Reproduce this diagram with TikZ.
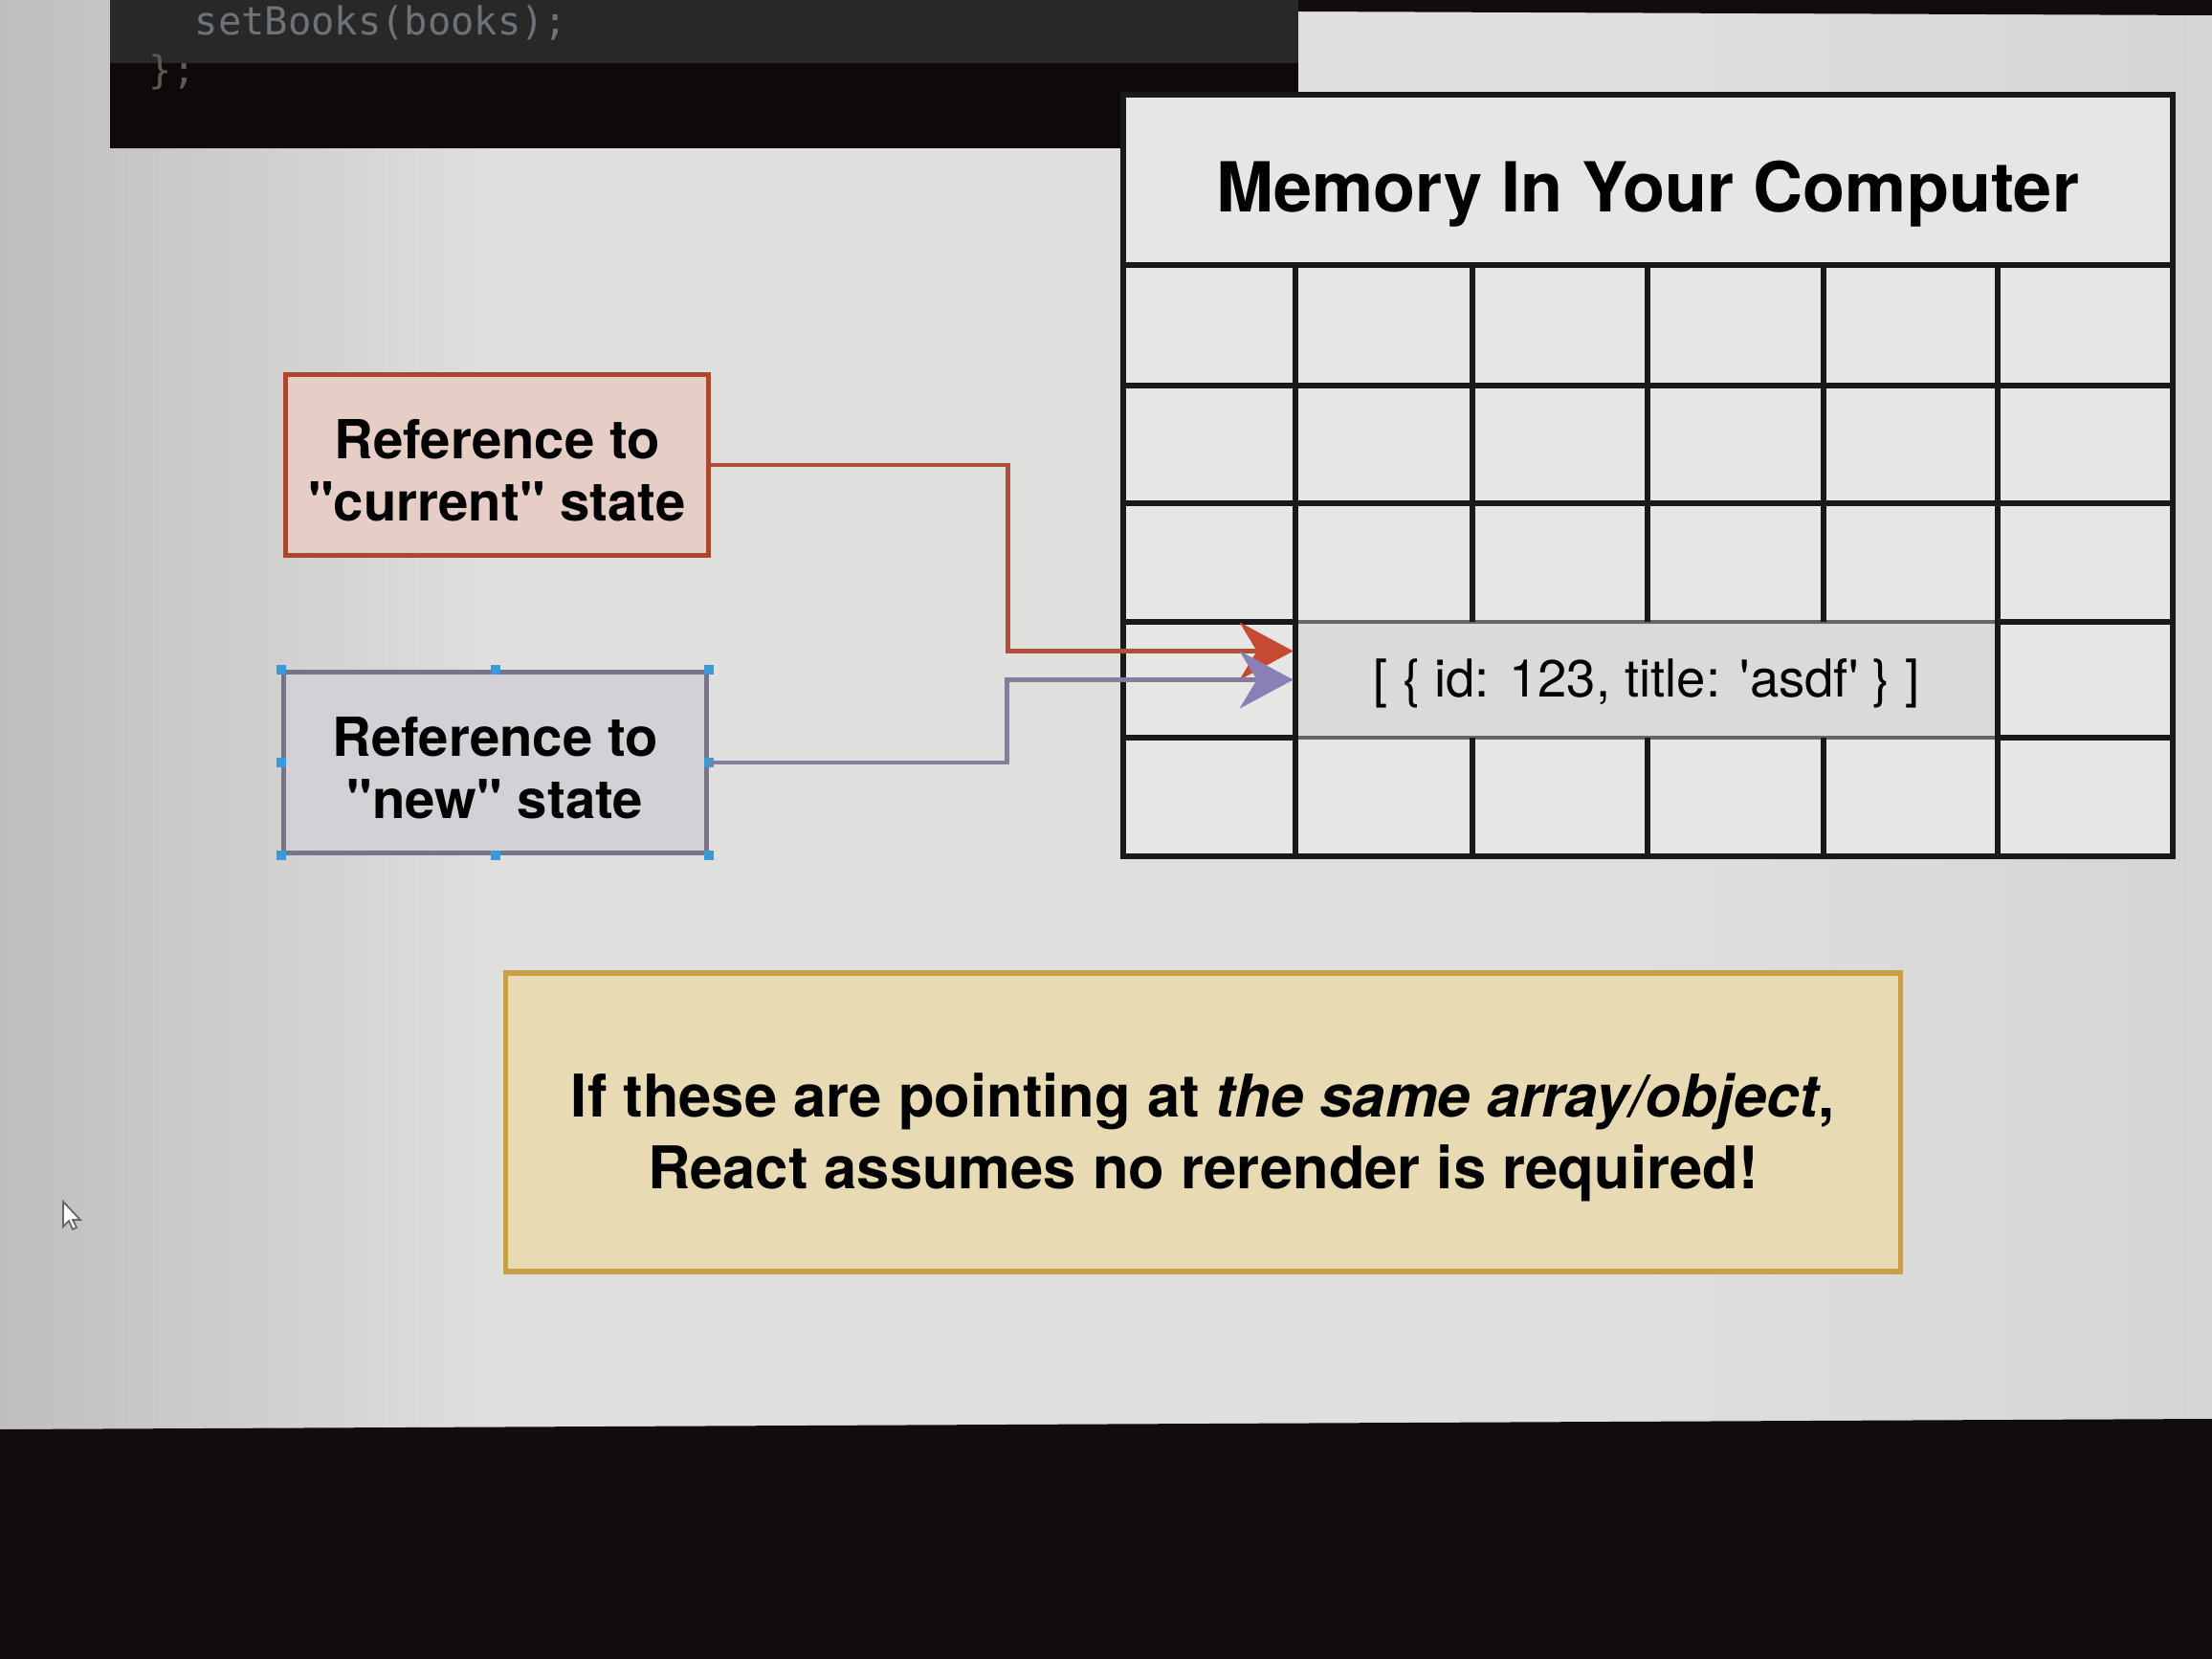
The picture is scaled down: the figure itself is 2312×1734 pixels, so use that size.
\documentclass[tikz,border=0pt]{standalone}
\usepackage{fontspec}
\setmainfont{TeX Gyre Heros}
\setmonofont{DejaVu Sans Mono}
\usetikzlibrary{arrows.meta,calc}
\definecolor{screenl}{HTML}{BEBEBC}
\definecolor{screenm}{HTML}{DFDFDD}
\definecolor{screenr}{HTML}{D5D5D3}
\definecolor{bezel}{HTML}{110C0D}
\definecolor{codebg}{HTML}{0E0A0B}
\definecolor{codeband}{HTML}{282828}
\definecolor{codetxt}{HTML}{6C7479}
\definecolor{bracetxt}{HTML}{5E5A4E}
\definecolor{curfill}{HTML}{E6CEC7}
\definecolor{curdraw}{HTML}{A9482F}
\definecolor{newfill}{HTML}{D3D0D6}
\definecolor{newdraw}{HTML}{7A7388}
\definecolor{redtip}{HTML}{C54A31}
\definecolor{purptip}{HTML}{8A80B5}
\definecolor{curwire}{HTML}{B0503B}
\definecolor{newwire}{HTML}{857C9C}
\definecolor{memfill}{HTML}{E6E6E4}
\definecolor{cellfill}{HTML}{DADAD8}
\definecolor{notefill}{HTML}{E8DBB4}
\definecolor{notedraw}{HTML}{C9A04A}
\definecolor{handle}{HTML}{3A9AD6}

\begin{document}
\begin{tikzpicture}[x=0.01cm,y=-0.01cm,
    refbox/.style={draw,line width=1.6pt,minimum width=4.42cm,minimum height=1.89cm,
      align=center,inner sep=0pt,font=\fontsize{16}{18.5}\selectfont\bfseries},
    gridline/.style={line width=1.8pt,black!90},
    curwire/.style={draw=curwire,line width=1.3pt,-{Stealth[length=5.6mm,width=6mm,inset=1.8mm,color=redtip]}},
    newwire/.style={draw=newwire,line width=1.3pt,-{Stealth[length=5.6mm,width=6mm,inset=1.8mm,color=purptip]}},
    notebox/.style={draw=notedraw,fill=notefill,line width=1.6pt,minimum width=14.57cm,minimum height=3.12cm,
      align=center,font=\fontsize{17.5}{21.5}\selectfont\bfseries}]
  \useasboundingbox (0,0) rectangle (2312,1734);
  \fill[screenm] (0,0) rectangle (2312,1494);
  \shade[left color=screenl,right color=screenm] (0,0) rectangle (520,1494);
  \shade[left color=screenm,right color=screenr] (1700,0) rectangle (2312,1494);
  \fill[bezel] (0,1494) -- (2312,1483) -- (2312,1734) -- (0,1734) -- cycle;
  \fill[bezel] (1357,0) -- (2312,0) -- (2312,16) -- (1357,12) -- cycle;
  \fill[codebg] (115,0) rectangle (1357,155);
  \fill[codeband] (115,0) rectangle (1357,66);
  \node[anchor=base west,inner sep=0pt,font=\ttfamily\fontsize{11.5}{14}\selectfont,text=codetxt] (code1) at (203,37) {setBooks(books);};
  \node[anchor=base west,inner sep=0pt,font=\ttfamily\fontsize{11.5}{14}\selectfont,text=bracetxt] (code2) at (155,88) {\};};

  \fill[memfill] (1174,99) rectangle (2271,895);
  \node[anchor=center,font=\fontsize{20.5}{24}\selectfont\bfseries] (memtitle) at (1722,203) {Memory In Your Computer};
  \node[fill=cellfill,draw=black!60,line width=1.2pt,minimum width=7.34cm,minimum height=1.21cm,
    font=\fontsize{15.5}{18}\selectfont] (arr) at (1721,710.5) {\rule{0pt}{13.5pt}[ \{ id: 123, title: \textquotesingle asdf\textquotesingle\ \} ]};
  \foreach \x in {1354,2088} \draw[gridline] (\x,277) -- (\x,895);
  \foreach \x in {1539,1722,1906} {
    \draw[gridline] (\x,277) -- (\x,650);
    \draw[gridline] (\x,771) -- (\x,895);
  }
  \foreach \y in {403,526} \draw[gridline] (1174,\y) -- (2271,\y);
  \foreach \y in {650,771} {
    \draw[gridline] (1174,\y) -- (1354,\y);
    \draw[gridline] (2088,\y) -- (2271,\y);
  }
  \draw[gridline] (1174,277) -- (2271,277);
  \draw[gridline] (1174,99) rectangle (2271,895);

  \node[refbox,draw=curdraw,fill=curfill] (cur) at (519.5,486) {\rule{0pt}{15pt}Reference to\\\textquotedbl current\textquotedbl\ state};
  \node[refbox,draw=newdraw,fill=newfill] (new) at (517.5,797) {\rule{0pt}{15pt}Reference to\\\textquotedbl new\textquotedbl\ state};
  \foreach \a in {north west,north,north east,east,south east,south,south west,west}
    \fill[handle] (new.\a) +(-5,-5) rectangle +(5,5);

  \coordinate (redin) at ($(arr.west)+(0,-30)$);
  \draw[curwire] (cur.east) -- ++(310,0) |- (redin);
  \draw[newwire] (new.east) -- ++(311,0) |- (arr.west);

  \node[notebox] (note) at (1257.5,1173) {\rule{0pt}{22pt}If these are pointing at \textit{the same array/object},\\React assumes no rerender is required!};

  \draw[fill=white,draw=black!60,line width=0.5pt] (66,1256) -- (66,1282) -- (72,1276) -- (76,1285) -- (80,1283) -- (76,1275) -- (84,1275) -- cycle;
\end{tikzpicture}
\end{document}
